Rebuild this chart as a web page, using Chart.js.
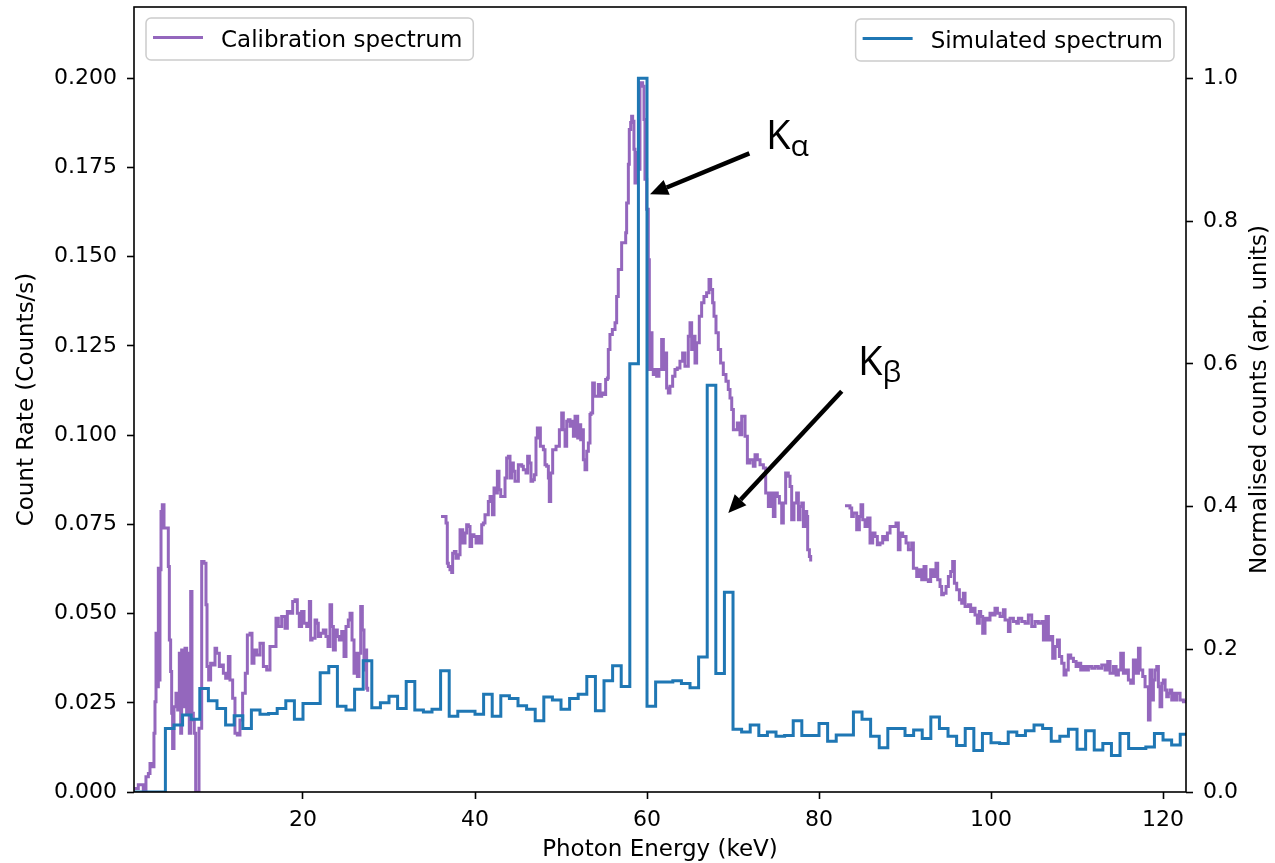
<!DOCTYPE html>
<html>
<head>
<meta charset="utf-8">
<script src="https://cdn.jsdelivr.net/npm/chart.js"></script>
<style>
  body { margin: 0; background: #fff; }
  #wrap { width: 1275px; height: 863px; }
</style>
</head>
<body>
<div id="wrap"><canvas id="mycanvas" width="1275" height="863"></canvas></div>
<script>
// calibration spectrum (count rate, counts/s) - null marks the gaps
var calEnergy = [
  0.39,0.85,1.43,1.74,2.02,2.21,2.48,2.67,2.79,2.91,
  3.06,3.18,3.29,3.37,3.49,3.64,3.84,4.15,4.34,4.46,
  4.61,4.73,4.84,5.00,5.23,5.43,5.62,5.78,5.89,6.09,
  6.28,6.47,6.63,6.78,6.94,7.09,7.25,7.36,7.52,7.71,
  7.91,8.22,8.49,8.72,8.84,9.03,9.26,9.57,9.77,9.96,
  10.27,10.54,10.74,11.01,11.32,11.51,11.82,12.09,12.36,12.67,
  12.98,13.29,13.53,13.84,14.07,14.30,14.61,15.00,15.39,15.78,
  16.16,16.47,16.86,17.13,17.52,17.91,18.18,18.49,18.80,19.07,
  19.34,19.57,19.84,20.12,20.43,20.74,20.89,21.05,21.40,21.59,
  21.78,22.05,22.36,22.67,22.91,23.14,23.33,23.53,23.76,23.99,
  24.22,24.50,24.77,25.00,25.27,25.47,25.70,25.93,26.12,26.32,
  26.51,26.71,26.90,27.09,27.29,27.40,27.52,
  32,
  36.05,36.51,36.63,36.78,36.90,37.09,37.29,37.40,37.60,37.79,
  38.06,38.26,38.45,38.57,38.84,39.03,39.23,39.42,39.61,39.88,
  40.12,40.39,40.58,40.78,40.97,41.16,41.43,41.55,41.75,42.02,
  42.21,42.44,42.60,42.79,42.99,43.22,43.49,43.68,43.88,44.07,
  44.26,44.46,44.65,44.85,45.04,45.23,45.43,45.62,45.93,46.12,
  46.32,46.51,46.71,46.90,47.09,47.25,47.48,47.60,47.75,47.95,
  48.14,48.33,48.53,48.64,48.80,49.03,49.19,49.42,49.61,49.81,
  50.08,50.27,50.47,50.66,50.85,51.05,51.24,51.44,51.63,51.82,
  51.94,52.13,52.29,52.40,52.60,52.79,52.99,53.18,53.37,53.49,
  53.68,53.88,54.15,54.34,54.54,54.73,55.00,55.19,55.39,
  55.50,55.69,55.97,56.28,56.47,56.66,56.86,57.05,57.32,57.52,
  57.63,57.83,57.94,58.10,58.21,58.33,58.48,58.60,58.72,58.91,
  59.18,59.49,59.65,59.76,59.96,60.15,60.27,60.42,60.58,60.73,
  60.93,61.12,61.39,61.70,61.90,62.09,62.28,62.48,62.67,62.98,
  63.25,63.52,63.83,64.14,64.41,64.80,65.00,65.19,65.38,65.58,
  65.77,66.08,66.35,66.62,66.93,67.21,67.40,67.63,67.79,68.02,
  68.29,68.56,68.87,69.18,69.45,69.65,
  69.85,70.04,70.50,70.81,71.01,71.40,71.67,71.98,72.36,72.56,
  72.83,73.14,73.53,73.80,74.11,74.42,74.69,74.88,75.15,75.39,
  75.66,75.85,76.12,76.43,76.63,76.82,77.09,77.40,77.60,77.79,
  77.99,78.18,78.37,78.57,78.68,78.88,79.03,
  81,
  83.02,83.60,83.80,83.99,84.38,84.69,84.88,85.08,85.35,85.66,
  85.93,86.24,86.51,86.78,87.09,87.40,87.67,87.95,88.26,88.64,
  88.95,89.22,89.42,89.73,90.12,90.39,90.77,90.97,91.36,91.67,
  91.94,92.21,92.44,92.71,92.98,93.29,93.60,93.80,94.07,94.26,
  94.46,94.77,95.04,95.31,95.54,95.74,96.01,96.32,96.59,96.78,
  96.98,97.36,97.63,97.87,98.14,98.41,98.64,98.80,99.03,99.30,
  99.57,99.88,100.19,100.46,100.74,101.05,
  101.44,101.63,102.02,102.21,102.60,102.99,103.18,103.57,103.96,104.34,
  104.73,105.12,105.51,105.90,106.09,106.40,106.67,106.86,107.17,107.45,
  107.72,107.95,108.22,108.49,108.72,108.98,109.27,109.58,109.89,110.16,
  110.43,110.74,111.05,111.32,111.71,112.10,112.48,112.87,113.26,113.57,
  113.84,114.23,114.54,114.81,115.08,115.39,115.70,115.97,116.24,116.55,
  116.86,117.14,117.33,117.64,117.91,118.10,118.30,118.49,118.69,118.88,
  119.07,119.27,119.46,119.65,119.85,120.04,120.24,120.43,120.62,120.82,
  121.01,121.21,121.40,121.59,121.98,122.37,122.64
];
var calRate = [
  0.0010,0.0020,0.0006,0.0043,0.0052,0.0080,0.0071,0.0165,0.0253,0.0445,
  0.0295,0.0627,0.0314,0.0623,0.0786,0.0805,0.0740,0.0740,0.0632,0.0426,
  0.0338,0.0221,0.0122,0.0239,0.0277,0.0230,0.0389,0.0165,0.0398,0.0239,
  0.0403,0.0221,0.0389,0.0165,0.0562,0.0221,0.0202,0.0165,0,0,
  0.0179,0.0646,0.0641,0.0525,0.0352,0.0314,0.0361,0.0356,0.0403,0.0389,
  0.0352,0.0356,0.0333,0.0319,0.0380,0.0314,0.0263,0.0165,0.0160,0.0202,
  0.0277,0.0333,0.0440,0.0445,0.0361,0.0398,0.0384,0.0417,0.0352,0.0342,
  0.0408,0.0408,0.0487,0.0464,0.0492,0.0459,0.0506,0.0501,0.0534,0.0539,
  0.0501,0.0464,0.0506,0.0473,0.0464,0.0534,0.0426,0.0431,0.0482,0.0473,
  0.0436,0.0445,0.0454,0.0436,0.0408,0.0525,0.0464,0.0398,0.0454,0.0436,
  0.0426,0.0450,0.0380,0.0464,0.0482,0.0501,0.0426,0.0333,0.0389,0.0324,
  0.0389,0.0520,0.0454,0.0342,0.0398,0.0291,0.0281,
  null,
  0.0772,0.0772,0.0754,0.0641,0.0632,0.0623,0.0615,0.0669,0.0674,0.0655,
  0.0665,0.0735,0.0735,0.0698,0.0726,0.0749,0.0744,0.0688,0.0721,0.0716,
  0.0698,0.0716,0.0698,0.0749,0.0754,0.0777,0.0777,0.0814,0.0828,0.0777,
  0.0852,0.0838,0.0899,0.0847,0.0828,0.0828,0.0880,0.0936,0.0941,0.0880,
  0.0922,0.0899,0.0871,0.0871,0.0917,0.0917,0.0913,0.0903,0.0894,0.0941,
  0.0922,0.0871,0.0875,0.0889,0.0992,0.1020,0.1020,0.0969,0.0969,0.0959,
  0.0917,0.0913,0.0880,0.0814,0.0894,0.0959,0.0959,0.0969,0.0969,0.1015,
  0.1062,0.1015,0.0969,0.1039,0.1043,0.1025,0.1039,0.0997,0.1053,0.1053,
  0.0992,0.1029,0.0987,0.1015,0.0931,0.0903,0.0955,0.0978,0.1058,0.1062,
  0.1146,0.1109,0.1109,0.1142,0.1109,0.1118,0.1114,0.1156,0.1160,
  0.1240,0.1282,0.1296,0.1315,0.1389,0.1464,0.1464,0.1539,0.1539,0.1567,
  0.1651,0.1759,0.1857,0.1876,0.1894,0.1880,0.1801,0.1707,0.1792,0.1745,
  0.1988,0.1978,0.1885,0.1717,0.1633,0.1492,0.1184,0.1287,0.1184,0.1170,
  0.1184,0.1165,0.1184,0.1268,0.1184,0.1230,0.1132,0.1118,0.1137,0.1165,
  0.1184,0.1188,0.1207,0.1230,0.1193,0.1277,0.1315,0.1240,0.1277,0.1202,
  0.1259,0.1333,0.1371,0.1389,0.1399,0.1436,0.1408,0.1371,0.1333,0.1287,
  0.1240,0.1202,0.1170,0.1151,0.1128,0.1104,
  0.1072,0.1015,0.1034,0.1001,0.1053,0.0997,0.0922,0.0931,0.0913,0.0945,
  0.0931,0.0917,0.0908,0.0838,0.0800,0.0838,0.0772,0.0838,0.0828,0.0810,
  0.0754,0.0810,0.0894,0.0885,0.0856,0.0763,0.0810,0.0838,0.0763,0.0800,
  0.0810,0.0744,0.0786,0.0772,0.0679,0.0660,0.0646,
  null,
  0.0802,0.0796,0.0772,0.0782,0.0735,0.0772,0.0805,0.0763,0.0744,0.0768,
  0.0698,0.0726,0.0716,0.0693,0.0698,0.0716,0.0707,0.0726,0.0744,0.0744,
  0.0754,0.0679,0.0726,0.0716,0.0698,0.0679,0.0698,0.0627,0.0604,0.0623,
  0.0595,0.0632,0.0595,0.0590,0.0623,0.0604,0.0641,0.0595,0.0576,0.0553,
  0.0557,0.0576,0.0604,0.0618,0.0646,0.0585,0.0567,0.0539,0.0529,0.0557,
  0.0520,0.0525,0.0506,0.0515,0.0496,0.0473,0.0506,0.0492,0.0445,0.0487,
  0.0482,0.0501,0.0496,0.0515,0.0501,0.0492,
  0.0511,0.0482,0.0450,0.0487,0.0478,0.0473,0.0487,0.0478,0.0473,0.0496,
  0.0464,0.0478,0.0473,0.0478,0.0426,0.0492,0.0426,0.0436,0.0375,0.0408,
  0.0426,0.0380,0.0361,0.0328,0.0342,0.0384,0.0375,0.0366,0.0352,0.0361,
  0.0342,0.0352,0.0342,0.0352,0.0347,0.0352,0.0347,0.0356,0.0342,0.0366,
  0.0333,0.0352,0.0328,0.0342,0.0389,0.0333,0.0342,0.0314,0.0305,0.0370,
  0.0333,0.0403,0.0342,0.0324,0.0295,0.0295,0.0202,0.0342,0.0258,0.0314,
  0.0342,0.0352,0.0295,0.0239,0.0305,0.0314,0.0286,0.0267,0.0277,0.0286,
  0.0258,0.0277,0.0258,0.0277,0.0258,0.0253,0.0258
];

// simulated spectrum, 1 keV bins, normalised counts (zero below simFirstBin)
var simFirstBin = 4;
var simValues = [
  0.089,0.094,0.108,0.102,0.145,0.128,0.117,0.094,0.107,0.089,   // 4-13
  0.115,0.109,0.110,0.117,0.128,0.102,0.124,0.124,0.167,0.176,   // 14-23
  0.120,0.115,0.144,0.184,0.118,0.125,0.134,0.117,0.155,0.115,   // 24-33
  0.112,0.116,0.170,0.106,0.113,0.113,0.109,0.137,0.106,0.135,   // 34-43
  0.131,0.121,0.116,0.100,0.133,0.129,0.116,0.131,0.137,0.162,   // 44-53
  0.114,0.156,0.177,0.148,0.600,1.000,0.120,0.154,0.154,0.156,   // 54-63
  0.152,0.146,0.189,0.570,0.166,0.280,0.088,0.084,0.094,0.079,   // 64-73
  0.084,0.078,0.079,0.100,0.079,0.079,0.096,0.071,0.080,0.080,   // 74-83
  0.112,0.102,0.078,0.062,0.089,0.089,0.079,0.087,0.075,0.105,   // 84-93
  0.089,0.078,0.065,0.089,0.058,0.082,0.069,0.068,0.084,0.079,   // 94-103
  0.086,0.094,0.089,0.071,0.078,0.088,0.060,0.086,0.059,0.068,   // 104-113
  0.051,0.082,0.061,0.061,0.063,0.082,0.073,0.066,0.081          // 114-122
];

var xMin = 0.35, xMax = 122.67;
var xTicks = [20, 40, 60, 80, 100, 120];

var annotations = [
  { sub: 'α', x: 74.07, y: 0.1801, tail: [71.90, 0.1790], tip: [60.35, 0.1675] },
  { sub: 'β', x: 84.77, y: 0.1169, tail: [82.64, 0.1123], tip: [69.45, 0.0782] }
];

var purple = '#9467bd', blue = '#1f77b4';
var tickFont = { family: 'DejaVu Sans', size: 22 };
var labelFont = '23px "DejaVu Sans"';

var calData = calEnergy.map(function(e, i) { return { x: e, y: calRate[i] }; });
var simData = [{ x: xMin, y: 0 }];
simValues.forEach(function(v, i) { simData.push({ x: simFirstBin + i, y: v }); });
simData.push({ x: simFirstBin + simValues.length, y: simValues[simValues.length - 1] });

function drawArrow(ctx, x1, y1, x2, y2) {
  var ang = Math.atan2(y2 - y1, x2 - x1), hl = 18, hw = 8;
  var bx = x2 - hl * Math.cos(ang), by = y2 - hl * Math.sin(ang);
  ctx.beginPath();
  ctx.moveTo(x1, y1);
  ctx.lineTo(bx, by);
  ctx.lineWidth = 4.5;
  ctx.strokeStyle = '#000';
  ctx.stroke();
  ctx.beginPath();
  ctx.moveTo(x2, y2);
  ctx.lineTo(bx + hw * Math.sin(ang), by - hw * Math.cos(ang));
  ctx.lineTo(bx - hw * Math.sin(ang), by + hw * Math.cos(ang));
  ctx.closePath();
  ctx.fillStyle = '#000';
  ctx.fill();
}

function drawLegend(ctx, x, y, label, color, alignRight) {
  ctx.font = labelFont;
  var w = 75 + ctx.measureText(label).width + 11, h = 42;
  if (alignRight) x = x - w;
  ctx.beginPath();
  ctx.roundRect(x, y, w, h, 5);
  ctx.fillStyle = 'rgba(255,255,255,0.8)';
  ctx.fill();
  ctx.strokeStyle = '#cccccc';
  ctx.lineWidth = 1.5;
  ctx.stroke();
  ctx.beginPath();
  ctx.moveTo(x + 7, y + 19.5);
  ctx.lineTo(x + 57, y + 19.5);
  ctx.strokeStyle = color;
  ctx.lineWidth = 3;
  ctx.stroke();
  ctx.fillStyle = '#000';
  ctx.textAlign = 'left';
  ctx.textBaseline = 'alphabetic';
  ctx.fillText(label, x + 75, y + 28.5);
}

var decor = {
  id: 'decor',
  afterDraw: function(chart) {
    var ctx = chart.ctx, a = chart.chartArea;
    var sx = chart.scales.x, sy = chart.scales.y;
    ctx.save();
    // frame
    ctx.strokeStyle = '#000';
    ctx.lineWidth = 1.6;
    ctx.strokeRect(a.left, a.top, a.right - a.left, a.bottom - a.top);

    drawLegend(ctx, a.left + 12, a.top + 11, 'Calibration spectrum', purple, false);
    drawLegend(ctx, a.right - 12, a.top + 12, 'Simulated spectrum', blue, true);

    // right axis title, reading bottom to top
    ctx.save();
    ctx.translate(1260, (a.top + a.bottom) / 2);
    ctx.rotate(-Math.PI / 2);
    ctx.font = labelFont;
    ctx.fillStyle = '#000';
    ctx.textAlign = 'center';
    ctx.textBaseline = 'middle';
    ctx.fillText('Normalised counts (arb. units)', 0, 0);
    ctx.restore();

    annotations.forEach(function(an) {
      drawArrow(ctx, sx.getPixelForValue(an.tail[0]), sy.getPixelForValue(an.tail[1]),
                sx.getPixelForValue(an.tip[0]), sy.getPixelForValue(an.tip[1]));
      var px = sx.getPixelForValue(an.x), py = sy.getPixelForValue(an.y);
      ctx.fillStyle = '#000';
      ctx.textAlign = 'left';
      ctx.textBaseline = 'alphabetic';
      ctx.font = '40px "Open Sans"';
      ctx.fillText('K', px - 2, py);
      var kw = ctx.measureText('K').width;
      ctx.font = '30px "Open Sans"';
      ctx.fillText(an.sub, px - 2 + kw, py + 7);
    });
    ctx.restore();
  }
};

function fixVertical(width) {
  return function(s) {
    s.width = width;
    s.paddingTop = 0;
    s.paddingBottom = 0;
  };
}

var ctx = document.getElementById('mycanvas');
var chart = new Chart(ctx, {
  type: 'line',
  data: {
    datasets: [
      {
        label: 'Simulated spectrum',
        data: simData,
        yAxisID: 'y1',
        borderColor: blue,
        borderWidth: 3,
        stepped: true,
        pointRadius: 0,
        fill: false,
        order: 0
      },
      {
        label: 'Calibration spectrum',
        data: calData,
        yAxisID: 'y',
        borderColor: purple,
        borderWidth: 3,
        stepped: true,
        pointRadius: 0,
        fill: false,
        spanGaps: false,
        order: 1
      }
    ]
  },
  options: {
    responsive: false,
    animation: false,
    devicePixelRatio: 1,
    layout: { padding: { top: 7, left: 0, right: 0, bottom: 0 } },
    plugins: { legend: { display: false }, tooltip: { enabled: false } },
    scales: {
      x: {
        type: 'linear',
        min: xMin,
        max: xMax,
        afterFit: function(s) { s.height = 71; s.paddingLeft = 0; s.paddingRight = 0; },
        afterBuildTicks: function(s) { s.ticks = xTicks.map(function(v) { return { value: v }; }); },
        ticks: { font: tickFont, color: '#000', padding: 8, maxRotation: 0, autoSkip: false,
                 callback: function(v) { return String(v); } },
        grid: { drawOnChartArea: false, tickLength: 7, tickColor: '#000', tickWidth: 1.6 },
        border: { display: false },
        title: { display: true, text: 'Photon Energy (keV)', color: '#000',
                 font: { family: 'DejaVu Sans', size: 23, lineHeight: 1.1 }, padding: 0 }
      },
      y: {
        position: 'left',
        min: 0,
        max: 0.22,
        afterFit: fixVertical(134),
        ticks: { stepSize: 0.025, includeBounds: false, font: tickFont, color: '#000', padding: 10,
                 callback: function(v) { return v.toFixed(3); } },
        grid: { drawOnChartArea: false, tickLength: 7, tickColor: '#000', tickWidth: 1.6 },
        border: { display: false },
        title: { display: true, text: 'Count Rate (Counts/s)', color: '#000',
                 font: { family: 'DejaVu Sans', size: 23, lineHeight: 1.1 }, padding: { top: 14, bottom: 0 } }
      },
      y1: {
        position: 'right',
        min: 0,
        max: 1.1,
        afterFit: fixVertical(89),
        ticks: { stepSize: 0.2, includeBounds: false, font: tickFont, color: '#000', padding: 10,
                 callback: function(v) { return v.toFixed(1); } },
        grid: { drawOnChartArea: false, tickLength: 7, tickColor: '#000', tickWidth: 1.6 },
        border: { display: false }
      }
    }
  },
  plugins: [decor]
});
</script>
</body>
</html>
